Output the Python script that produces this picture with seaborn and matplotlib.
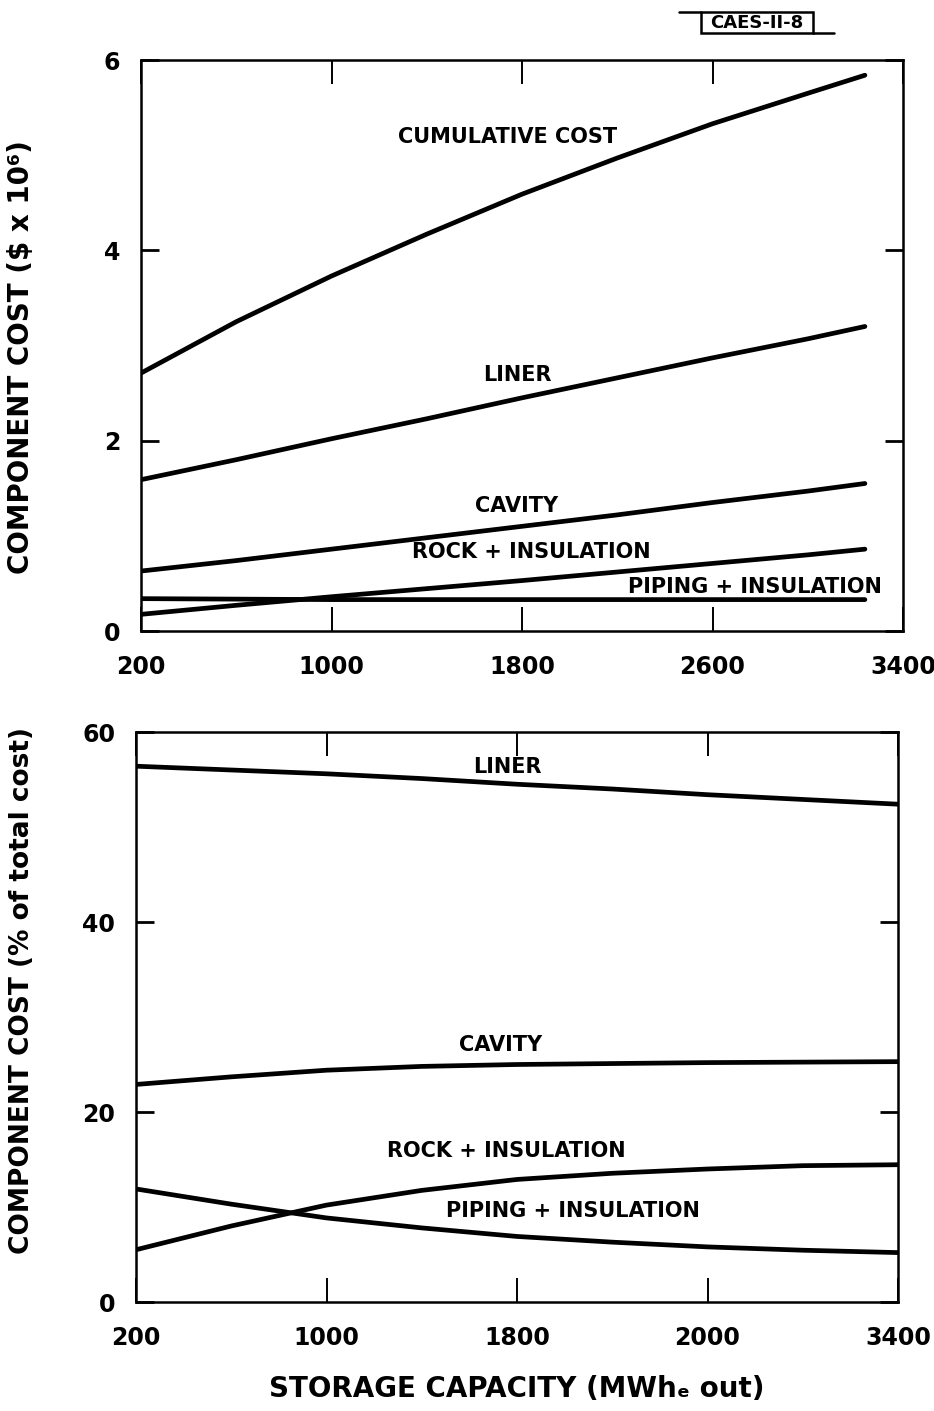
import matplotlib
matplotlib.use("Agg")
import matplotlib.pyplot as plt
from matplotlib.lines import Line2D
from matplotlib.patches import Rectangle
import seaborn as sns
import pandas as pd

# ---------------- data ----------------
cap_top = [200, 600, 1000, 1400, 1800, 2200, 2600, 3000, 3240]
cumulative_cost = [2.71, 3.25, 3.73, 4.17, 4.59, 4.97, 5.33, 5.65, 5.84]
liner_cost = [1.59, 1.80, 2.02, 2.23, 2.45, 2.66, 2.87, 3.07, 3.20]
cavity_cost = [0.63, 0.74, 0.86, 0.98, 1.10, 1.22, 1.35, 1.47, 1.55]
rock_cost = [0.175, 0.27, 0.36, 0.445, 0.53, 0.62, 0.71, 0.80, 0.86]
piping_cost = [0.34, 0.335, 0.33, 0.33, 0.33, 0.33, 0.33, 0.33, 0.33]

cap_bot = [200, 600, 1000, 1400, 1800, 2200, 2600, 3000, 3400]
liner_pct = [56.4, 56.0, 55.6, 55.1, 54.5, 54.0, 53.4, 52.9, 52.4]
cavity_pct = [22.9, 23.7, 24.4, 24.8, 25.0, 25.1, 25.2, 25.25, 25.3]
rock_pct = [5.5, 8.0, 10.2, 11.75, 12.9, 13.55, 14.0, 14.35, 14.45]
piping_pct = [11.9, 10.3, 8.85, 7.8, 6.9, 6.3, 5.8, 5.45, 5.2]

xticks = [200, 1000, 1800, 2600, 3400]
top_xlabels = ["200", "1000", "1800", "2600", "3400"]
bot_xlabels = ["200", "1000", "1800", "2000", "3400"]
top_yticks = [0, 2, 4, 6]
bot_yticks = [0, 20, 40, 60]

top_series = {
    "CUMULATIVE COST": cumulative_cost,
    "LINER": liner_cost,
    "CAVITY": cavity_cost,
    "ROCK + INSULATION": rock_cost,
    "PIPING + INSULATION": piping_cost,
}
bot_series = {
    "LINER": liner_pct,
    "CAVITY": cavity_pct,
    "ROCK + INSULATION": rock_pct,
    "PIPING + INSULATION": piping_pct,
}

top_df = pd.concat([pd.DataFrame({"cap": cap_top, "cost": v, "comp": k})
                    for k, v in top_series.items()], ignore_index=True)
bot_df = pd.concat([pd.DataFrame({"cap": cap_bot, "cost": v, "comp": k})
                    for k, v in bot_series.items()], ignore_index=True)

# ---------------- style ----------------
sns.set_style("ticks")
plt.rcParams["font.family"] = ["DejaVu Sans"]
for k in ["text.color", "axes.labelcolor", "xtick.color", "ytick.color",
          "xtick.labelcolor", "ytick.labelcolor", "axes.edgecolor"]:
    plt.rcParams[k] = "black"

W, H = 934, 1411
fig = plt.figure(figsize=(W / 100, H / 100), dpi=100)

def box(l, r, t, b):
    return [l / W, 1 - b / H, (r - l) / W, (b - t) / H]

ax1 = fig.add_axes(box(141, 903, 60, 631))
ax2 = fig.add_axes(box(136, 898, 732, 1302))

lw = 3.4
sns.lineplot(data=top_df, x="cap", y="cost", units="comp", estimator=None,
             color="black", linewidth=lw, ax=ax1, legend=False,
             solid_capstyle="round", solid_joinstyle="round")
sns.lineplot(data=bot_df, x="cap", y="cost", units="comp", estimator=None,
             color="black", linewidth=lw, ax=ax2, legend=False,
             solid_capstyle="round", solid_joinstyle="round")

for ax, ylim, yt, xl in [(ax1, (0, 6), top_yticks, top_xlabels),
                         (ax2, (0, 60), bot_yticks, bot_xlabels)]:
    ax.set_xlim(200, 3400)
    ax.set_ylim(*ylim)
    ax.set_xticks(xticks)
    ax.set_xticklabels(xl)
    ax.set_yticks(yt)
    for s in ax.spines.values():
        s.set_visible(True)
        s.set_linewidth(1.8)
        s.set_color("black")
    ax.tick_params(axis="x", direction="in", length=17, width=1.4,
                   top=True, bottom=True, pad=17, labelsize=17,
                   colors="black")
    ax.tick_params(axis="y", direction="in", length=13, width=2.0,
                   left=True, right=True, pad=15, labelsize=17,
                   colors="black")
    for lab in ax.get_xticklabels() + ax.get_yticklabels():
        lab.set_fontweight("bold")
    ax.set_xlabel("")

lab_kw = dict(fontsize=15, fontweight="bold", ha="center", va="center",
              color="black")

# top panel labels
ax1.text(1741, 5.19, "CUMULATIVE COST", **lab_kw)
ax1.text(1779, 2.69, "LINER", **lab_kw)
ax1.text(1779, 1.31, "CAVITY", **lab_kw)
ax1.text(1838, 0.83, "ROCK + INSULATION", **lab_kw)
ax1.text(2778, 0.46, "PIPING + INSULATION", **lab_kw)

# bottom panel labels
ax2.text(1758, 56.3, "LINER", **lab_kw)
ax2.text(1729, 27.05, "CAVITY", **lab_kw)
ax2.text(1754, 15.9, "ROCK + INSULATION", **lab_kw)
ax2.text(2035, 9.6, "PIPING + INSULATION", **lab_kw)

ax1.set_ylabel("COMPONENT COST ($ x 10\u2076)", fontsize=20, fontweight="bold")
ax1.yaxis.set_label_coords(-0.139, 0.48)
ax2.set_ylabel("COMPONENT COST (% of total cost)", fontsize=19, fontweight="bold")
ax2.yaxis.set_label_coords(-0.1325, 0.546)
ax2.set_xlabel("STORAGE CAPACITY (MWh\u2091 out)", fontsize=20,
               fontweight="bold", labelpad=18)
ax1.set_xlabel("")

# drawing number tag
fig.add_artist(Rectangle((701 / W, 1 - 33 / H), 112 / W, 21 / H,
                         transform=fig.transFigure, fill=False,
                         ec="black", lw=1.8))
fig.text(757 / W, 1 - 23 / H, "CAES-II-8", fontsize=13, fontweight="bold",
         ha="center", va="center")
fig.add_artist(Line2D([679 / W, 701 / W], [1 - 12 / H, 1 - 12 / H],
                      color="black", lw=1.8, transform=fig.transFigure))
fig.add_artist(Line2D([813 / W, 834 / W], [1 - 33 / H, 1 - 33 / H],
                      color="black", lw=1.8, transform=fig.transFigure))

fig.savefig("out.png", dpi=100, facecolor="white")
